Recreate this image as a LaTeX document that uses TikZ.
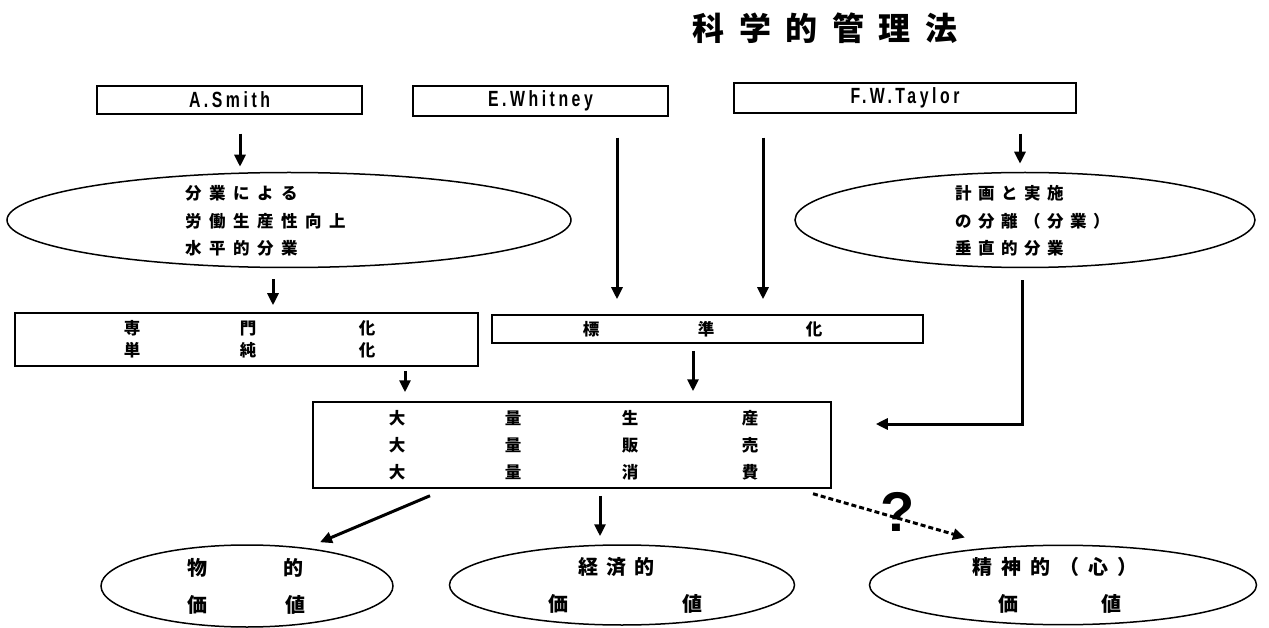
\documentclass[tikz,border=0pt]{standalone}
\usepackage{fontspec}
\usetikzlibrary{arrows.meta,shapes.geometric,calc}
\newfontfamily\jp{Noto Sans CJK JP}
\newfontfamily\latf[FakeStretch=0.72,LetterSpace=16]{Liberation Sans}
\newfontfamily\qf{Liberation Sans}
\newcommand\spaced[2]{\def\gapw{#1}\spacedi#2\relax}
\def\spacedi#1{\ifx#1\relax\else#1\expandafter\spacedii\fi}
\def\spacedii#1{\ifx#1\relax\else\hspace{\gapw}#1\expandafter\spacedii\fi}
\newcommand\cat[2]{\rlap{\hskip#1pt\makebox[0pt]{#2}}}
\newcommand\crow[1]{\makebox[0pt][l]{#1}}
\begin{document}
\begin{tikzpicture}[x=1pt,y=-1pt,
  boxst/.style={draw,line width=1.5pt,inner sep=0pt},
  ellst/.style={draw,ellipse,line width=1.5pt,inner sep=0pt},
  arr/.style={line width=3pt,-{Triangle[width=11pt,length=12pt]}},
  darr/.style={line width=3pt,dash pattern=on 5pt off 3pt,-{Triangle[width=11pt,length=12pt]}},
  latin/.style={font=\latf\bfseries\fontsize{22}{24}\selectfont},
  jt/.style={font=\jp\bfseries\fontsize{16.5}{27.5}\selectfont,align=left,inner sep=0pt,anchor=west},
  jbox/.style={boxst,align=center,font=\jp\bfseries\fontsize{16.5}{22}\selectfont},
  jell/.style={ellst,align=center,font=\jp\bfseries\fontsize{20}{37}\selectfont}]
\useasboundingbox (0,0) rectangle (1269,628);

% title
\node[font=\jp\bfseries\fontsize{32}{36}\selectfont,inner sep=0pt] (title) at (825,28) {\spaced{14.5pt}{科学的管理法}};

% top boxes
\node[boxst,latin,minimum width=265pt,minimum height=28pt] (smith) at (229.5,100) {A.Smith};
\node[boxst,latin,minimum width=255pt,minimum height=30pt] (whitney) at (540.5,101) {E.Whitney};
\node[boxst,latin,minimum width=342pt,minimum height=30pt] (taylor) at (905,98) {F.W.Taylor};

% ellipses
\node[ellst,minimum width=564pt,minimum height=95pt] (ell1) at (289,220) {};
\node[jt] (t1) at (185,221) {\spaced{7.5pt}{分業による}\\\spaced{7.5pt}{労働生産性向上}\\\spaced{7.5pt}{水平的分業}};
\node[ellst,minimum width=460pt,minimum height=95pt] (ell2) at (1025,220) {};
\node[jt] (t2) at (955,221) {\spaced{6.5pt}{計画と実施}\\\spaced{6.5pt}{の分離（分業）}\\\spaced{6.5pt}{垂直的分業}};

% middle boxes
\node[jbox,minimum width=463pt,minimum height=53pt] (senmon) at (246.5,339.5)
  {\crow{\cat{-114.5}{専}\cat{1.5}{門}\cat{120.5}{化}}\\\crow{\cat{-114.5}{単}\cat{1.5}{純}\cat{120.5}{化}}};
\node[jbox,minimum width=431pt,minimum height=28pt] (hyojun) at (707.5,329)
  {\crow{\cat{-116.5}{標}\cat{-1.5}{準}\cat{106.5}{化}}};

\node[boxst,align=center,font=\jp\bfseries\fontsize{16.5}{27}\selectfont,minimum width=518pt,minimum height=86pt] (main) at (572,445)
  {\crow{\cat{-175}{大}\cat{-59}{量}\cat{58}{生}\cat{178}{産}}\\
   \crow{\cat{-175}{大}\cat{-59}{量}\cat{58}{販}\cat{178}{売}}\\
   \crow{\cat{-175}{大}\cat{-59}{量}\cat{58}{消}\cat{178}{費}}};

% bottom ellipses
\node[jell,minimum width=292pt,minimum height=82pt] (butsu) at (247,586)
  {\crow{\cat{-50}{物}\cat{46}{的}}\\\crow{\cat{-50}{価}\cat{48}{値}}};
\node[jell,minimum width=345pt,minimum height=80pt] (keizai) at (622,585)
  {\crow{\cat{-6}{\spaced{8pt}{経済的}}}\\\crow{\cat{-64}{価}\cat{70}{値}}};
\node[jell,minimum width=387pt,minimum height=76pt] (seishin) at (1063,585)
  {\crow{\cat{-8}{\spaced{9pt}{精神的（心）}}}\\\crow{\cat{-55}{価}\cat{48}{値}}};

\node[font=\qf\bfseries\fontsize{56}{60}\selectfont,inner sep=0pt] (q) at (898,512) {?};

% connectors
\draw[arr,shorten <=19pt,shorten >=5pt] (240,0 |- smith.south) -- (240,0 |- ell1.north);
\draw[arr,shorten <=21pt,shorten >=15pt] (617,0 |- whitney.south) -- (617,0 |- hyojun.north);
\draw[arr,shorten <=24pt,shorten >=15pt] (763,0 |- taylor.south) -- (763,0 |- hyojun.north);
\draw[arr,shorten <=20pt,shorten >=8pt] (1020,0 |- taylor.south) -- (1020,0 |- ell2.north);
\draw[arr,shorten <=11pt,shorten >=7pt] (273,0 |- ell1.south) -- (273,0 |- senmon.north);
\draw[arr,shorten <=4pt,shorten >=9pt] (405,0 |- senmon.south) -- (405,0 |- main.north);
\draw[arr,shorten <=7pt,shorten >=10pt] (693,0 |- hyojun.south) -- (693,0 |- main.north);
\draw[arr,shorten <=12pt] (1022,0 |- ell2.south) |- ([xshift=44pt,yshift=21pt]main.east);
\draw[arr] ([xshift=-142pt,yshift=-7pt]main.south) -- ([xshift=73pt,yshift=2pt]butsu.north);
\draw[arr,shorten <=7pt,shorten >=8pt] (600,0 |- main.south) -- (600,0 |- keizai.north);
\draw[darr] ([xshift=241pt,yshift=-5pt]main.south) -- ([xshift=-98pt,yshift=7pt]seishin.north);
\end{tikzpicture}
\end{document}
